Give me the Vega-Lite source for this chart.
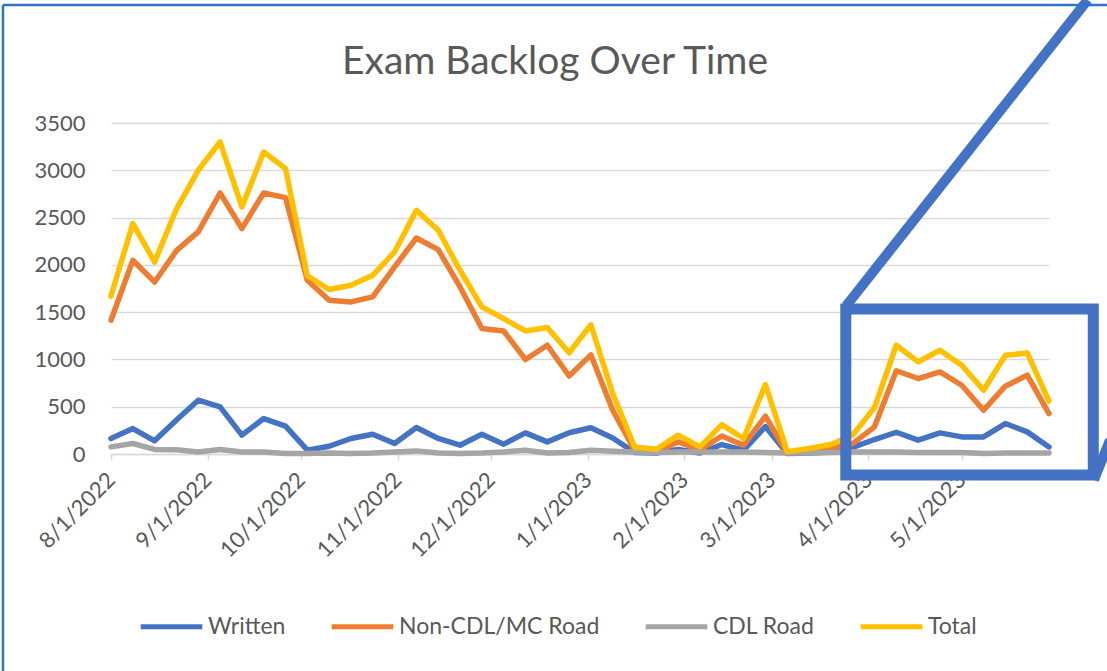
{
  "$schema": "https://vega.github.io/schema/vega-lite/v6.json",
  "width": 938,
  "height": 331,
  "autosize": "none",
  "padding": {"left": 111, "top": 123, "right": 58, "bottom": 217},
  "background": "white",
  "config": {"view": {"stroke": null}, "font": "Lato"},
  "title": {"text": "Exam Backlog Over Time", "fontSize": 39, "font": "Lato", "fontWeight": "normal", "color": "#595959", "anchor": "middle", "frame": "group", "dx": -25, "offset": 0, "dy": 87},
  "datasets": {
    "backlog": [
      {"date": "2022-08-01", "Written": 164, "Non-CDL/MC Road": 1414, "CDL Road": 75, "Total": 1670},
      {"date": "2022-08-08", "Written": 269, "Non-CDL/MC Road": 2048, "CDL Road": 111, "Total": 2436},
      {"date": "2022-08-15", "Written": 139, "Non-CDL/MC Road": 1819, "CDL Road": 48, "Total": 2030},
      {"date": "2022-08-22", "Written": 360, "Non-CDL/MC Road": 2150, "CDL Road": 45, "Total": 2590},
      {"date": "2022-08-29", "Written": 569, "Non-CDL/MC Road": 2348, "CDL Road": 22, "Total": 3000},
      {"date": "2022-09-05", "Written": 498, "Non-CDL/MC Road": 2760, "CDL Road": 48, "Total": 3299},
      {"date": "2022-09-12", "Written": 199, "Non-CDL/MC Road": 2383, "CDL Road": 22, "Total": 2612},
      {"date": "2022-09-19", "Written": 375, "Non-CDL/MC Road": 2760, "CDL Road": 22, "Total": 3193},
      {"date": "2022-09-26", "Written": 294, "Non-CDL/MC Road": 2711, "CDL Road": 5, "Total": 3017},
      {"date": "2022-10-03", "Written": 40, "Non-CDL/MC Road": 1837, "CDL Road": 5, "Total": 1885},
      {"date": "2022-10-10", "Written": 82, "Non-CDL/MC Road": 1626, "CDL Road": 10, "Total": 1739},
      {"date": "2022-10-17", "Written": 164, "Non-CDL/MC Road": 1608, "CDL Road": 5, "Total": 1784},
      {"date": "2022-10-24", "Written": 209, "Non-CDL/MC Road": 1661, "CDL Road": 10, "Total": 1890},
      {"date": "2022-10-31", "Written": 111, "Non-CDL/MC Road": 1978, "CDL Road": 22, "Total": 2136},
      {"date": "2022-11-07", "Written": 280, "Non-CDL/MC Road": 2284, "CDL Road": 33, "Total": 2577},
      {"date": "2022-11-14", "Written": 164, "Non-CDL/MC Road": 2161, "CDL Road": 10, "Total": 2366},
      {"date": "2022-11-21", "Written": 93, "Non-CDL/MC Road": 1766, "CDL Road": 5, "Total": 1943},
      {"date": "2022-11-28", "Written": 209, "Non-CDL/MC Road": 1327, "CDL Road": 10, "Total": 1555},
      {"date": "2022-12-05", "Written": 104, "Non-CDL/MC Road": 1301, "CDL Road": 22, "Total": 1432},
      {"date": "2022-12-12", "Written": 223, "Non-CDL/MC Road": 999, "CDL Road": 40, "Total": 1301},
      {"date": "2022-12-19", "Written": 128, "Non-CDL/MC Road": 1150, "CDL Road": 10, "Total": 1337},
      {"date": "2022-12-26", "Written": 225, "Non-CDL/MC Road": 825, "CDL Road": 15, "Total": 1070},
      {"date": "2023-01-02", "Written": 278, "Non-CDL/MC Road": 1048, "CDL Road": 40, "Total": 1366},
      {"date": "2023-01-09", "Written": 170, "Non-CDL/MC Road": 463, "CDL Road": 30, "Total": 640},
      {"date": "2023-01-16", "Written": 15, "Non-CDL/MC Road": 40, "CDL Road": 20, "Total": 75},
      {"date": "2023-01-23", "Written": 10, "Non-CDL/MC Road": 25, "CDL Road": 15, "Total": 50},
      {"date": "2023-01-30", "Written": 48, "Non-CDL/MC Road": 128, "CDL Road": 22, "Total": 199},
      {"date": "2023-02-06", "Written": 10, "Non-CDL/MC Road": 45, "CDL Road": 20, "Total": 75},
      {"date": "2023-02-13", "Written": 100, "Non-CDL/MC Road": 190, "CDL Road": 20, "Total": 310},
      {"date": "2023-02-20", "Written": 40, "Non-CDL/MC Road": 93, "CDL Road": 20, "Total": 164},
      {"date": "2023-02-27", "Written": 290, "Non-CDL/MC Road": 400, "CDL Road": 15, "Total": 735},
      {"date": "2023-03-06", "Written": 5, "Non-CDL/MC Road": 10, "CDL Road": 10, "Total": 25},
      {"date": "2023-03-13", "Written": 10, "Non-CDL/MC Road": 35, "CDL Road": 10, "Total": 58},
      {"date": "2023-03-20", "Written": 20, "Non-CDL/MC Road": 60, "CDL Road": 15, "Total": 100},
      {"date": "2023-03-27", "Written": 70, "Non-CDL/MC Road": 110, "CDL Road": 20, "Total": 200},
      {"date": "2023-04-03", "Written": 153, "Non-CDL/MC Road": 287, "CDL Road": 20, "Total": 490},
      {"date": "2023-04-10", "Written": 230, "Non-CDL/MC Road": 880, "CDL Road": 20, "Total": 1150},
      {"date": "2023-04-17", "Written": 146, "Non-CDL/MC Road": 798, "CDL Road": 15, "Total": 974},
      {"date": "2023-04-24", "Written": 223, "Non-CDL/MC Road": 868, "CDL Road": 15, "Total": 1097},
      {"date": "2023-05-01", "Written": 181, "Non-CDL/MC Road": 727, "CDL Road": 15, "Total": 939},
      {"date": "2023-05-08", "Written": 181, "Non-CDL/MC Road": 463, "CDL Road": 5, "Total": 674},
      {"date": "2023-05-15", "Written": 322, "Non-CDL/MC Road": 717, "CDL Road": 10, "Total": 1044},
      {"date": "2023-05-22", "Written": 234, "Non-CDL/MC Road": 833, "CDL Road": 10, "Total": 1069},
      {"date": "2023-05-29", "Written": 75, "Non-CDL/MC Road": 428, "CDL Road": 10, "Total": 560}
    ],
    "box": [
      {"xa": "2023-03-24T19:00", "ya": 1533, "xb": "2023-06-12T05:00", "yb": -222}
    ],
    "connectors": [
      {"xa": "2023-03-24T21:00", "ya": 1565, "xb": "2023-06-10T10:00", "yb": 4801},
      {"xa": "2023-06-12T10:00", "ya": -275, "xb": "2023-06-17T14:00", "yb": 148}
    ],
    "frame": [
      {"xa": "2022-06-27T08:00", "ya": 4748, "xb": "2022-06-27T08:00", "yb": -2400},
      {"xa": "2022-06-27T08:00", "ya": 4748, "xb": "2023-06-25T00:00", "yb": 4748}
    ]
  },
  "layer": [
    {
      "data": {"name": "backlog", "format": {"parse": {"date": "date:'%Y-%m-%d'"}}},
      "transform": [{"fold": ["Written", "Non-CDL/MC Road", "CDL Road", "Total"], "as": ["series", "value"]}],
      "mark": {"type": "line", "strokeWidth": 5.5, "strokeJoin": "round", "strokeCap": "round"},
      "encoding": {
        "x": {
          "field": "date", "type": "temporal",
          "scale": {"domain": [{"year": 2022, "month": 8, "date": 1}, {"year": 2023, "month": 5, "date": 29}], "nice": false},
          "axis": {
            "title": null,
            "values": [
              {"year": 2022, "month": 8, "date": 1}, {"year": 2022, "month": 9, "date": 1},
              {"year": 2022, "month": 10, "date": 1}, {"year": 2022, "month": 11, "date": 1},
              {"year": 2022, "month": 12, "date": 1}, {"year": 2023, "month": 1, "date": 1},
              {"year": 2023, "month": 2, "date": 1}, {"year": 2023, "month": 3, "date": 1},
              {"year": 2023, "month": 4, "date": 1}, {"year": 2023, "month": 5, "date": 1}
            ],
            "format": "%-m/%-d/%Y",
            "labelAngle": -45, "labelAlign": "right", "labelBaseline": "middle",
            "labelFontSize": 22, "labelColor": "#595959", "labelPadding": 16,
            "domainColor": "#d9d9d9", "domainWidth": 1.5,
            "tickColor": "#d9d9d9", "tickWidth": 1.5, "tickSize": 6,
            "grid": false, "labelOverlap": false
          }
        },
        "y": {
          "field": "value", "type": "quantitative",
          "scale": {"domain": [0, 3500], "nice": false},
          "axis": {
            "title": null, "values": [0, 500, 1000, 1500, 2000, 2500, 3000, 3500],
            "format": "d",
            "grid": true, "gridColor": "#d9d9d9", "gridWidth": 1.5,
            "domain": false, "ticks": false, "labelPadding": 26,
            "labelFontSize": 22, "labelColor": "#595959"
          }
        },
        "color": {
          "field": "series", "type": "nominal",
          "scale": {"domain": ["Written", "Non-CDL/MC Road", "CDL Road", "Total"], "range": ["#4472C4", "#ED7D31", "#A5A5A5", "#FFC000"]},
          "sort": ["Written", "Non-CDL/MC Road", "CDL Road", "Total"],
          "legend": {
            "title": null, "orient": "none", "legendX": 27, "legendY": 470,
            "direction": "horizontal", "symbolType": "stroke", "symbolSize": 3800,
            "symbolStrokeWidth": 5, "labelFontSize": 23, "labelColor": "#595959",
            "columnPadding": 35, "labelOffset": 3, "labelLimit": 0
          }
        }
      }
    },
    {
      "data": {"name": "box", "format": {"parse": {"xa": "date:'%Y-%m-%dT%H:%M'", "xb": "date:'%Y-%m-%dT%H:%M'"}}},
      "mark": {"type": "rect", "fill": "white", "fillOpacity": 0, "stroke": "#4472C4", "strokeWidth": 11},
      "encoding": {
        "x": {"field": "xa", "type": "temporal", "scale": {"domain": [{"year": 2022, "month": 8, "date": 1}, {"year": 2023, "month": 5, "date": 29}], "nice": false}},
        "x2": {"field": "xb"},
        "y": {"field": "ya", "type": "quantitative", "scale": {"domain": [0, 3500], "nice": false}},
        "y2": {"field": "yb"}
      }
    },
    {
      "data": {"name": "connectors", "format": {"parse": {"xa": "date:'%Y-%m-%dT%H:%M'", "xb": "date:'%Y-%m-%dT%H:%M'"}}},
      "mark": {"type": "rule", "stroke": "#4472C4", "strokeWidth": 10},
      "encoding": {
        "x": {"field": "xa", "type": "temporal", "scale": {"domain": [{"year": 2022, "month": 8, "date": 1}, {"year": 2023, "month": 5, "date": 29}], "nice": false}},
        "x2": {"field": "xb"},
        "y": {"field": "ya", "type": "quantitative", "scale": {"domain": [0, 3500], "nice": false}},
        "y2": {"field": "yb"}
      }
    },
    {
      "data": {"name": "frame", "format": {"parse": {"xa": "date:'%Y-%m-%dT%H:%M'", "xb": "date:'%Y-%m-%dT%H:%M'"}}},
      "mark": {"type": "rule", "stroke": "#2E75C6", "strokeWidth": 2.5},
      "encoding": {
        "x": {"field": "xa", "type": "temporal", "scale": {"domain": [{"year": 2022, "month": 8, "date": 1}, {"year": 2023, "month": 5, "date": 29}], "nice": false}},
        "x2": {"field": "xb"},
        "y": {"field": "ya", "type": "quantitative", "scale": {"domain": [0, 3500], "nice": false}},
        "y2": {"field": "yb"}
      }
    }
  ]
}
